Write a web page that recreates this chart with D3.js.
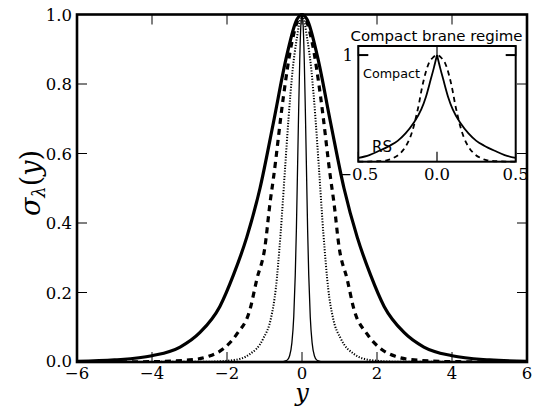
<!DOCTYPE html>
<html>
<head>
<meta charset="utf-8">
<script src="https://cdn.jsdelivr.net/npm/d3@7"></script>
</head>
<body style="margin:0;padding:0;background:#fff">
<svg id="chart" width="533" height="408" style="display:block"></svg>
<script>
// Warp-factor profiles sigma_lambda(y) for four widths (main panel)
const wideX   = [-6, -5, -4, -3.25, -2.72, -2.19, -1.83, -1.47, -1.12, -0.76, -0.41, -0.14, 0, 0.14, 0.41, 0.76, 1.12, 1.47, 1.83, 2.19, 2.72, 3.25, 4, 5, 6];
const wideY   = [0.002, 0.006, 0.018, 0.043, 0.085, 0.16, 0.25, 0.36, 0.50, 0.69, 0.88, 0.985, 1, 0.985, 0.88, 0.69, 0.50, 0.36, 0.25, 0.16, 0.085, 0.043, 0.018, 0.006, 0.002];

const dashX   = [-6, -4, -3, -2.5, -2.1, -1.74, -1.39, -1.2, -0.99, -0.85, -0.76, -0.5, -0.27, 0, 0.27, 0.5, 0.76, 0.85, 0.99, 1.2, 1.39, 1.74, 2.1, 2.5, 3, 4, 6];
const dashY   = [0, 0.001, 0.006, 0.016, 0.038, 0.08, 0.15, 0.24, 0.33, 0.46, 0.53, 0.76, 0.92, 1, 0.92, 0.76, 0.53, 0.46, 0.33, 0.24, 0.15, 0.08, 0.038, 0.016, 0.006, 0.001, 0];

const dotX    = [-6, -2.5, -1.8, -1.4, -1.03, -0.83, -0.7, -0.57, -0.45, -0.36, -0.25, -0.14, 0, 0.14, 0.25, 0.36, 0.45, 0.57, 0.7, 0.83, 1.03, 1.4, 1.8, 2.5, 6];
const dotY    = [0, 0.0008, 0.006, 0.022, 0.068, 0.125, 0.21, 0.37, 0.56, 0.70, 0.84, 0.93, 1, 0.93, 0.84, 0.70, 0.56, 0.37, 0.21, 0.125, 0.068, 0.022, 0.006, 0.0008, 0];

const thinX   = [-6, -0.6, -0.4, -0.33, -0.27, -0.22, -0.18, -0.15, -0.12, -0.09, -0.06, -0.03, 0, 0.03, 0.06, 0.09, 0.12, 0.15, 0.18, 0.22, 0.27, 0.33, 0.4, 0.6, 6];
const thinY   = [0, 0.0005, 0.005, 0.018, 0.055, 0.13, 0.25, 0.38, 0.55, 0.72, 0.87, 0.97, 1, 0.97, 0.87, 0.72, 0.55, 0.38, 0.25, 0.13, 0.055, 0.018, 0.005, 0.0005, 0];

// Inset: compact brane vs Randall-Sundrum profiles
const rsX      = [0, 0.02, 0.04, 0.07, 0.1, 0.15, 0.2, 0.25, 0.3, 0.37, 0.43, 0.5];
const rsY      = [1, 0.88, 0.77, 0.61, 0.49, 0.36, 0.265, 0.195, 0.15, 0.10, 0.062, 0.035];
const compactX = [-0.5, -0.38, -0.32, -0.28, -0.24, -0.2, -0.17, -0.15, -0.13, -0.115, -0.1, -0.075, -0.05, -0.03, 0, 0.03, 0.05, 0.075, 0.1, 0.115, 0.13, 0.15, 0.17, 0.2, 0.24, 0.28, 0.32, 0.38, 0.5];
const compactY = [0, 0.004, 0.013, 0.033, 0.07, 0.14, 0.23, 0.32, 0.44, 0.54, 0.66, 0.82, 0.93, 0.97, 1, 0.97, 0.93, 0.82, 0.66, 0.54, 0.44, 0.32, 0.23, 0.14, 0.07, 0.033, 0.013, 0.004, 0];

const xTicks      = [-6, -4, -2, 0, 2, 4, 6];
const yTicks      = [0, 0.2, 0.4, 0.6, 0.8, 1.0];
const insetXTicks = [-0.5, 0, 0.5];
const insetYTicks = [1];

const svg = d3.select("#chart");
const fmtMinus = s => s.replace("-", "\u2212");
// serif text helper (tick labels and math titles)
const label = (sel, size) => sel.append("text")
  .style("font-family", "DejaVu Serif")
  .style("font-size", size + "px").attr("fill", "#000");

// ---------- main panel ----------
const M = { left: 77, right: 527, top: 14.5, bottom: 362 };
const x = d3.scaleLinear().domain([-6, 6]).range([M.left, M.right]);
const y = d3.scaleLinear().domain([0, 1]).range([M.bottom, M.top]);

svg.append("clipPath").attr("id", "mainClip")
  .append("rect").attr("x", M.left).attr("y", M.top - 2)
  .attr("width", M.right - M.left).attr("height", M.bottom - M.top + 2);

const line = d3.line().x(d => x(d[0])).y(d => y(d[1])).curve(d3.curveMonotoneX);
const zip = (a, b) => a.map((v, i) => [v, b[i]]);

const g = svg.append("g").attr("clip-path", "url(#mainClip)");
g.append("path").attr("d", line(zip(thinX, thinY)))
  .attr("fill", "none").attr("stroke", "#000").attr("stroke-width", 1.3);
g.append("path").attr("d", line(zip(dotX, dotY)))
  .attr("fill", "none").attr("stroke", "#000").attr("stroke-width", 2)
  .attr("stroke-dasharray", "1.2,1.6");
g.append("path").attr("d", line(zip(dashX, dashY)))
  .attr("fill", "none").attr("stroke", "#000").attr("stroke-width", 3.2)
  .attr("stroke-dasharray", "6,5");
g.append("path").attr("d", line(zip(wideX, wideY)))
  .attr("fill", "none").attr("stroke", "#000").attr("stroke-width", 3.2);

// inward ticks on all four sides
const tickLen = 10;
const axes = svg.append("g").attr("stroke", "#000").attr("stroke-width", 1);
xTicks.forEach(t => {
  axes.append("line").attr("x1", x(t)).attr("x2", x(t)).attr("y1", M.bottom).attr("y2", M.bottom - tickLen);
  axes.append("line").attr("x1", x(t)).attr("x2", x(t)).attr("y1", M.top).attr("y2", M.top + tickLen);
});
yTicks.forEach(t => {
  axes.append("line").attr("x1", M.left).attr("x2", M.left + tickLen).attr("y1", y(t)).attr("y2", y(t));
  axes.append("line").attr("x1", M.right).attr("x2", M.right - tickLen).attr("y1", y(t)).attr("y2", y(t));
});

svg.append("rect").attr("x", M.left).attr("y", M.top)
  .attr("width", M.right - M.left).attr("height", M.bottom - M.top)
  .attr("fill", "none").attr("stroke", "#000").attr("stroke-width", 2.6);

xTicks.forEach(t => {
  label(svg, 16.5).attr("x", x(t)).attr("y", 379).attr("text-anchor", "middle")
    .text(fmtMinus(d3.format("d")(t)));
});
yTicks.forEach(t => {
  label(svg, 16.5).attr("x", 72).attr("y", y(t) + (t === 0 ? 4.5 : 6)).attr("text-anchor", "end")
    .text(d3.format(".1f")(t));
});

// axis titles
label(svg, 24).attr("x", x(0)).attr("y", 401).attr("text-anchor", "middle")
  .style("font-style", "italic").text("y");

const yl = label(svg, 27)
  .attr("transform", "translate(40,183) rotate(-90)")
  .attr("text-anchor", "middle");
yl.append("tspan").style("font-style", "italic").text("σ");
yl.append("tspan").style("font-style", "italic").style("font-size", "18px").attr("dy", 5).text("λ");
yl.append("tspan").attr("dy", -5).text("(");
yl.append("tspan").style("font-style", "italic").text("y");
yl.append("tspan").text(")");

// ---------- inset ----------
const I = { left: 358.3, right: 515.7, top: 46, bottom: 161.7 };
const ix = d3.scaleLinear().domain([-0.5, 0.5]).range([I.left, I.right]);
const iy = d3.scaleLinear().domain([0, 1.085]).range([I.bottom, I.top]);

svg.append("rect").attr("x", I.left).attr("y", I.top)
  .attr("width", I.right - I.left).attr("height", I.bottom - I.top).attr("fill", "#fff");

const iline = d3.line().x(d => ix(d[0])).y(d => iy(d[1])).curve(d3.curveMonotoneX);
const rsRight = zip(rsX, rsY);
const rsLeft = zip(rsX.map(v => -v), rsY).reverse();
svg.append("path").attr("d", iline(rsLeft)).attr("fill", "none").attr("stroke", "#000").attr("stroke-width", 1.8);
svg.append("path").attr("d", iline(rsRight)).attr("fill", "none").attr("stroke", "#000").attr("stroke-width", 1.8);
svg.append("path").attr("d", iline(zip(compactX, compactY)))
  .attr("fill", "none").attr("stroke", "#000").attr("stroke-width", 1.8)
  .attr("stroke-dasharray", "5,4");

const iaxes = svg.append("g").attr("stroke", "#000").attr("stroke-width", 1.2);
insetXTicks.forEach(t => {
  iaxes.append("line").attr("x1", ix(t)).attr("x2", ix(t)).attr("y1", I.bottom).attr("y2", I.bottom - 10);
  iaxes.append("line").attr("x1", ix(t)).attr("x2", ix(t)).attr("y1", I.top).attr("y2", I.top + 10);
});
insetYTicks.forEach(t => {
  iaxes.append("line").attr("x1", I.left).attr("x2", I.left + 10).attr("y1", iy(t)).attr("y2", iy(t)).attr("stroke-width", 2);
  iaxes.append("line").attr("x1", I.right).attr("x2", I.right - 10).attr("y1", iy(t)).attr("y2", iy(t)).attr("stroke-width", 2);
});
svg.append("rect").attr("x", I.left).attr("y", I.top)
  .attr("width", I.right - I.left).attr("height", I.bottom - I.top)
  .attr("fill", "none").attr("stroke", "#000").attr("stroke-width", 2);

insetXTicks.forEach(t => {
  label(svg, 16.5).attr("x", ix(t)).attr("y", 180).attr("text-anchor", "middle")
    .text(fmtMinus(d3.format(".1f")(t)));
});
insetYTicks.forEach(t => {
  label(svg, 16.5).attr("x", 353).attr("y", iy(t) + 6).attr("text-anchor", "end")
    .text(d3.format("d")(t));
});

const sansText = (size) => svg.append("text")
  .style("font-family", "DejaVu Sans").style("font-size", size + "px").attr("fill", "#000");
sansText(14).attr("x", 436.5).attr("y", 41).attr("text-anchor", "middle")
  .attr("textLength", 172).attr("lengthAdjust", "spacingAndGlyphs")
  .text("Compact brane regime");
sansText(11.5).attr("x", 363).attr("y", 78)
  .attr("textLength", 57).attr("lengthAdjust", "spacingAndGlyphs")
  .text("Compact");
sansText(15).attr("x", 372).attr("y", 152).text("RS");
</script>
</body>
</html>
